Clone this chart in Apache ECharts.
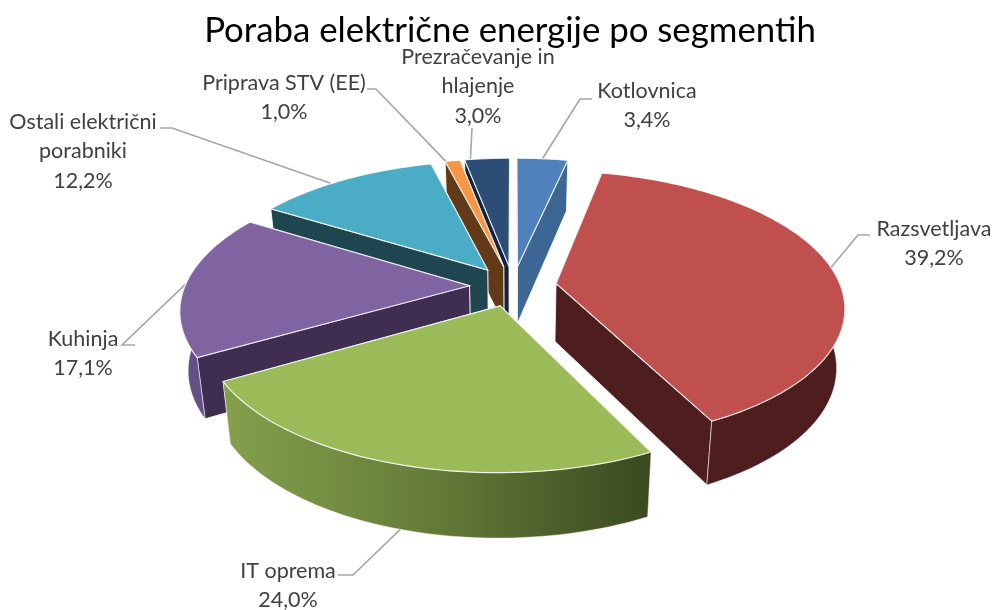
<!DOCTYPE html>
<html><head><meta charset="utf-8">
<style>html,body{margin:0;padding:0;background:#fff}#c{width:995px;height:610px}</style>
<script src="https://cdn.jsdelivr.net/npm/echarts@6/dist/echarts.min.js"></script>
</head><body><div id="c"></div>
<script>
// Data
const titleText = 'Poraba električne energije po segmentih';
const categories = ['Kotlovnica','Razsvetljava','IT oprema','Kuhinja','Ostali električni porabniki','Priprava STV (EE)','Prezračevanje in hlajenje'];
const values = [3.4,39.2,24.0,17.1,12.2,1.0,3.0];
// Label line breaks as in the picture
const labelLines = [['Kotlovnica'],['Razsvetljava'],['IT oprema'],['Kuhinja'],['Ostali električni','porabniki'],['Priprava STV (EE)'],['Prezračevanje in','hlajenje']];

// Styles
const topColors  = ['#4f81bd','#c0504d','#9bbb59','#8064a2','#4bacc6','#f79646','#2c4d75'];
const sideColors = ['#3c6795','#4d1e1d','#5e7335','#3f2e51','#1f4650','#633a18','#13233a'];
const outerColors = ['#3c6795','#4d1e1d',null,'#654f84','#1f4650','#633a18','#13233a'];
const greenWall = [[0,'#84a04c'],[0.45,'#677f3a'],[1,'#3b491f']];
const paintOrder = [6,5,0,4,3,1,2];
// Layout: [label centre x, first-line y, elbow start x, elbow end x, elbow y, leader position across the slice]
const labelLayout = [
  [647,91,592,580,99,0.5],
  [934,229,870,858,235,0.5],
  [288,571,338,353,575,0.5],
  [83,339,135,122,345,0.5],
  [83,122,160,172,128,0.42],
  [284,83,367,376,89,0.05],
  [478,57,472,472,128,0.13]
];
const lineStep = 29.5;

// Projection of the tilted pie
const cx=513, cy=286, A=284.5, B=132, K=0.165, EXPLODE=0.153;
function proj(X,Y){const w=1+K*Y;return [cx+A*X/w, cy-B*Y/w];}
function bottom(p,Y){return [cx+(p[0]-cx)*0.975, p[1]+58-6.5*Y];}

const total = values.reduce((a,b)=>a+b,0);
const startAngles=[];let acc=0;values.forEach(v=>{startAngles.push(acc);acc+=v/total*Math.PI*2;});

function sliceGeom(i){
  const a0=startAngles[i], a1=a0+values[i]/total*Math.PI*2, m=(a0+a1)/2;
  const ex=EXPLODE*Math.sin(m), ey=EXPLODE*Math.cos(m);
  const pt=(t,r)=>{const X=ex+r*Math.sin(t),Y=ey+r*Math.cos(t);const p=proj(X,Y);return {p,b:bottom(p,Y)};};
  return {a0,a1,m,pt};
}
const edge={stroke:'rgba(255,255,255,0.8)',lineWidth:1};
function poly(points,fill,z2,style){
  return {type:'polygon',shape:{points},z2,silent:true,style:Object.assign({fill},edge,style||{})};
}
function fmt(v){return v.toFixed(1).replace('.',',')+'%';}

function renderItem(params){
  const i=params.dataIndex, g=sliceGeom(i), kids=[];
  const base=10+paintOrder.indexOf(i)*10;
  const apex=g.pt(0,0);
  const rim=[];const n=Math.max(4,Math.ceil((g.a1-g.a0)/(Math.PI/120)));
  for(let k=0;k<=n;k++){rim.push(g.pt(g.a0+(g.a1-g.a0)*k/n,1));}
  // radial walls, the farther one first
  const wall=(o,z)=>poly([apex.p,o.p,o.b,apex.b],sideColors[i],z);
  const firstFar=rim[0].p[1]<rim[n].p[1];
  kids.push(wall(rim[0],firstFar?base:base+1));
  kids.push(wall(rim[n],firstFar?base+1:base));
  // outer curved wall: only the part facing the viewer
  const front=[];
  for(let k=0;k<=n;k++){const t=g.a0+(g.a1-g.a0)*k/n;if(Math.cos(t)<0.2)front.push(rim[k]);}
  if(front.length>1){
    const pts=front.map(o=>o.p).concat(front.slice().reverse().map(o=>o.b));
    const fill=outerColors[i]||{type:'linear',x:0,y:0,x2:1,y2:0,colorStops:greenWall.map(s=>({offset:s[0],color:s[1]}))};
    kids.push(poly(pts,fill,base+2,{stroke:'rgba(255,255,255,0.55)',lineWidth:0.8}));
  }
  // top face
  kids.push(poly([apex.p].concat(rim.map(o=>o.p)),topColors[i],base+3,{lineWidth:1.2}));
  // leader line to the slice rim (lower rim on the front side)
  const L=labelLayout[i], tL=g.a0+(g.a1-g.a0)*L[5], e=g.pt(tL,1), rp=Math.cos(tL)<-0.5?e.b:e.p;
  kids.push({type:'polyline',z2:1,silent:true,shape:{points:[[L[2],L[4]],[L[3],L[4]],rp]},style:{fill:null,stroke:'#a6a6a6',lineWidth:1.6}});
  // label
  labelLines[i].concat([fmt(values[i])]).forEach((t,j)=>{
    kids.push({type:'text',z2:200,silent:true,x:L[0],y:L[1]+j*lineStep,style:{text:t,align:'center',verticalAlign:'middle',fill:'#404040',font:'400 21.5px Lato, "Open Sans", sans-serif'}});
  });
  return {type:'group',children:kids};
}

const chart=echarts.init(document.getElementById('c'),null,{renderer:'canvas'});
chart.setOption({
  animation:false,
  backgroundColor:'#fff',
  title:{text:titleText,left:505,top:8,textAlign:'center',textStyle:{fontFamily:'Lato, "Open Sans", sans-serif',fontWeight:'normal',fontSize:34.8,color:'#000'}},
  series:[{type:'custom',coordinateSystem:'none',renderItem,data:values.map((v,i)=>({name:categories[i],value:v}))}]
});
</script></body></html>
